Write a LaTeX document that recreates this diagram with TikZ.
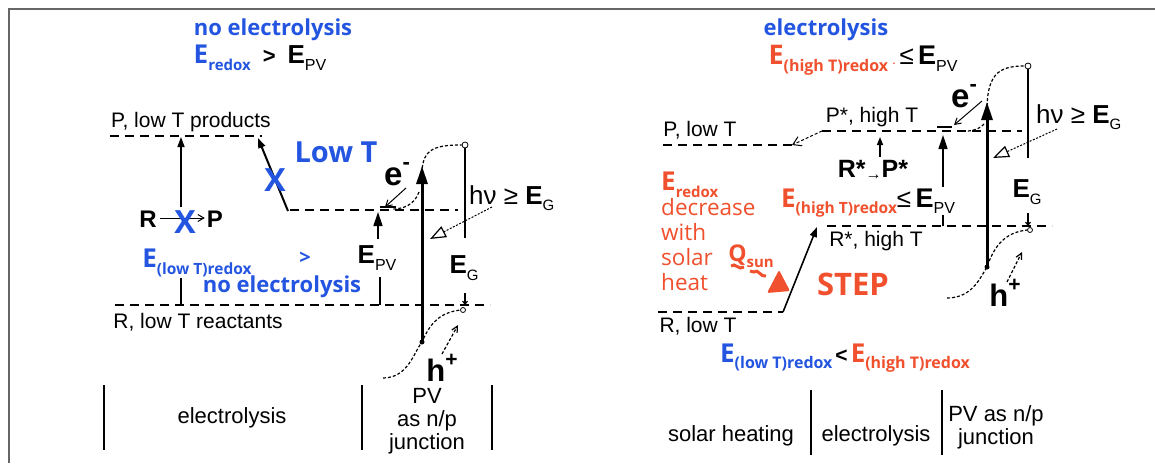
\documentclass[tikz,border=0pt]{standalone}
\usepackage{fontspec}
\setmainfont{Liberation Sans}
\newfontfamily\os{Open Sans}
\usetikzlibrary{arrows.meta}
\definecolor{eblue}{RGB}{35,85,225}
\definecolor{ered}{RGB}{240,80,45}
\newcommand\fs[1]{\fontsize{#1}{#1}\selectfont}
\newcommand\sub[2]{\raisebox{-0.25em}{\fs{#1}#2}}
\newcommand\sups[2]{\raisebox{0.5em}{\fs{#1}#2}}
\tikzset{
  txt/.style={inner sep=0pt, font=\fs{21}},
  bot/.style={inner sep=0pt, font=\fs{22}, align=center},
  lab/.style={inner sep=0pt, font=\fs{24}\bfseries},
  bluetxt/.style={inner sep=0pt, text=eblue, font=\os\bfseries\fs{22}},
  redtxt/.style={inner sep=0pt, text=ered, align=left},
  bigx/.style={inner sep=0pt, text=eblue, font=\os\bfseries\fs{32}},
  dline/.style={dash pattern=on 9pt off 6pt, line width=1.4pt},
  dcurve/.style={dash pattern=on 3pt off 2pt, line width=1.2pt},
  arr/.style={line width=1.5pt, -{Triangle[length=10pt,width=7pt]}},
  thickarr/.style={line width=3pt, -{Triangle[length=18pt,width=11pt]}},
  hvarr/.style={dash pattern=on 2pt off 1.5pt, line width=1pt, -{Triangle[open,length=16pt,width=12pt,line width=1.2pt]}},
  earr/.style={line width=1pt, -{Straight Barb[length=6pt,width=7pt]}},
  harr/.style={dcurve, -{Straight Barb[length=6pt,width=6pt]}},
  tick/.style={line width=1.4pt},
  sep/.style={line width=1.6pt},
  endmark/.style={circle, draw, fill=white, inner sep=0pt, minimum size=6pt, line width=0.8pt}
}
\begin{document}
\begin{tikzpicture}[x=1pt,y=-1pt]
\useasboundingbox (0,0) rectangle (1155,463);
\fill[white] (0,0) rectangle (1155,463);
\draw[line width=2.5pt, black!60] (9,463) -- (9,9) -- (1155,9);

% ================= LEFT PANEL =================
\node[bluetxt] (noel1) at (273,30) {no electrolysis};
\node[inner sep=0pt] (eq1) at (260,58) {{\color{eblue}\os\bfseries\fs{26}E\sub{15}{redox}}\hspace{12pt}{\bfseries\fs{22}>}\hspace{12pt}{\bfseries\fs{26}E\sub{16}{\mdseries PV}}};

\node[txt] (Plt) at (191,122) {P, low T products};
\coordinate (PL1) at (110,136); \coordinate (PL2) at (262,136);
\draw[dline] (PL1) -- (PL2);

\coordinate (ua1) at (181,207); \coordinate (ua2) at (181,137);
\draw[arr] (ua1) -- (ua2);
\node[lab] (R1) at (148,219) {R};
\node[lab] (P1) at (215,219) {P};
\draw[earr, line width=1pt] ([xshift=3pt,yshift=1pt]R1.east) -- ([xshift=-2pt,yshift=1pt]P1.west);
\node[bigx] (X1) at (185,222) {X};

\node[inner sep=0pt] (Elow) at (197,263) {\color{eblue}\os\bfseries\fs{26}E\sub{15.5}{(low T)redox}};
\node[inner sep=0pt, text=eblue, font=\os\bfseries\fs{20}] (gt1) at (305,258) {>};
\coordinate (tk1) at (181,278); \coordinate (tk2) at (181,305);
\draw[tick] (tk1) -- (tk2);
\node[bluetxt] (noel2) at (282,287) {no electrolysis};

\coordinate (RL1) at (115,305); \coordinate (RL2) at (490,305);
\draw[dline] (RL1) -- (RL2);
\node[txt] (Rlt) at (198,322) {R, low T reactants};

\coordinate (lu1) at (288,211); \coordinate (lu2) at (258,138);
\draw[arr, line width=2pt] (lu1) -- (lu2);
\node[bigx] (X2) at (275,180) {X};
\node[inner sep=0pt, text=eblue, font=\os\bfseries\fs{29}] (lowT) at (336,152) {Low T};

\coordinate (UL1) at (290,210); \coordinate (UL2) at (458,210);
\draw[dline] (UL1) -- (UL2);

% PV left
\coordinate (mb1) at (422,342); \coordinate (mt1) at (422,166);
\draw[thickarr] (mb1) -- (mt1);
\fill (mb1) circle (2.5pt);
\node[endmark] (c1) at (465,145) {};
\coordinate (cs1) at (422,178);
\draw[dcurve] (cs1) .. controls (421,150) and (432,145) .. (c1.west);
\coordinate (ec1) at (419,192); \coordinate (ec2) at (392,209);
\draw[dcurve] (ec1) .. controls (414,206) and (402,209) .. (ec2);
\node[inner sep=0pt, font=\bfseries\fs{33}] (e1) at (397,174) {e\sups{22}{-}};
\coordinate (ea1) at (406,188); \coordinate (ea2) at (385,207);
\draw[earr] (ea1) -- (ea2);
\draw[line width=1.2pt] (380,207) -- (396,207);
\coordinate (hv1b) at (465,238);
\draw[line width=1.4pt] (c1.south) -- (hv1b);
\node[inner sep=0pt, anchor=west] (hv1) at (469,198) {\fs{26}hν ≥ {\bfseries E}\sub{15}{G}};
\coordinate (ha1) at (492,207); \coordinate (ha2) at (430,239);
\draw[hvarr] (ha1) -- (ha2);
\node[inner sep=0pt] (EG1) at (464,268) {\fs{26}{\bfseries E}\sub{15}{G}};
\coordinate (gt1a) at (465,293); \coordinate (gt1b) at (465,305);
\draw[line width=1.2pt, -{Straight Barb[length=3pt,width=5pt]}] (gt1a) -- (gt1b);
\coordinate (pa1) at (378,239); \coordinate (pa2) at (378,212);
\draw[arr, -{Triangle[length=14pt,width=9pt]}] (pa1) -- (pa2);
\node[inner sep=0pt] (EPV1) at (377,258) {\fs{26}{\bfseries E}\sub{16}{PV}};
\coordinate (pt1) at (380,277); \coordinate (pt2) at (380,305);
\draw[tick] (pt1) -- (pt2);
\node[endmark, minimum size=5pt] (c2) at (463,310) {};
\coordinate (hs1) at (383,378);
\draw[dcurve] (hs1) .. controls (408,378) and (414,352) .. (mb1) .. controls (432,318) and (445,312) .. (c2.west);
\coordinate (hp1) at (442,354); \coordinate (hp2) at (458,325);
\draw[harr] (hp1) -- (hp2);
\node[inner sep=0pt, font=\bfseries\fs{31}] (h1) at (442,368) {h\sups{21}{+}};

% bottom labels left
\draw[sep] (104,385) -- (104,450);
\draw[sep] (362,385) -- (362,450);
\draw[sep] (492,385) -- (492,450);
\node[bot] (bl1) at (232,418) {electrolysis};
\node[bot, font=\fontsize{22}{23}\selectfont] (bl2) at (427,421) {PV\\as n/p\\junction};

% ================= RIGHT PANEL =================
\node[bluetxt] (el2) at (826,30) {electrolysis};
\node[inner sep=0pt] (eq2) at (863,60) {{\color{ered}\os\bfseries\fs{27}E\sub{16}{(high T)redox}\,\fs{10}.}\hspace{4pt}{\fs{26}≤\,}{\bfseries\fs{27}E\sub{16}{\mdseries PV}}};

\coordinate (PS1) at (822,131); \coordinate (PS2) at (1022,131);
\draw[dline] (PS1) -- (PS2);
\node[txt] (Pst) at (872,117) {P*, high T};
\coordinate (PR1) at (663,145); \coordinate (PR2) at (792,145);
\draw[dline] (PR1) -- (PR2);
\draw[dcurve, line width=1pt, -{Straight Barb[length=8pt,width=10pt]}] (PS1) -- (PR2);
\node[txt] (Plow2) at (700,130) {P, low T};

\coordinate (su1) at (880,157); \coordinate (su2) at (880,137);
\draw[arr, -{Triangle[length=8pt,width=6pt]}] (su1) -- (su2);
\node[inner sep=0pt, font=\bfseries\fs{25}] (RP2) at (873,170) {R*\raisebox{-0.1em}{\mdseries\fs{16}→}P*};

\node[redtxt, anchor=north west, font=\os\fontsize{22.5}{25}\selectfont] (dec) at (661,172) {{\bfseries\fs{26}E\sub{15}{redox}}\\decrease\\with\\solar\\heat};
\node[inner sep=0pt] (eq3) at (868,203) {{\color{ered}\os\bfseries\fs{26}E\sub{15.5}{(high T)redox}}{\fs{26}≤\,}{\bfseries\fs{27}E\sub{16}{\mdseries PV}}};

\coordinate (qa1) at (943,187); \coordinate (qa2) at (943,135);
\draw[arr, -{Triangle[length=14pt,width=9pt]}] (qa1) -- (qa2);
\coordinate (qt1) at (943,215); \coordinate (qt2) at (943,226);
\draw[tick] (qt1) -- (qt2);

\coordinate (RS1) at (827,226); \coordinate (RS2) at (1052,226);
\draw[dline] (RS1) -- (RS2);
\node[txt] (Rst) at (876,241) {R*, high T};

\node[inner sep=0pt, text=ered, font=\os\bfseries\fs{23}] (Q) at (751,256) {Q\sub{15}{sun}};
\draw[ered, line width=3pt] (731,266) .. controls (735,262) and (739,271) .. (744,267);
\draw[ered, line width=3pt] (750,271) -- (754,272) .. controls (758,268) and (761,278) .. (766,276);
\fill[ered, rounded corners=2pt] (767,293) -- (779,270) -- (790,291) -- cycle;
\node[inner sep=0pt, text=ered, font=\os\bfseries\fs{31}] (STEP) at (853,284) {STEP};

\coordinate (RR1) at (658,312); \coordinate (RR2) at (783,312); \coordinate (RR3) at (817,227);
\draw[dline] (RR1) -- (RR2);
\draw[arr, line width=1.6pt] (RR2) -- (RR3);
\node[txt] (Rlow2) at (698,326) {R, low T};

\node[inner sep=0pt] (eq4) at (845,358) {{\color{eblue}\os\bfseries\fs{26}E\sub{16}{(low T)redox}}\hspace{3pt}{\bfseries\fs{21}<}\hspace{3pt}{\color{ered}\os\bfseries\fs{26}E\sub{16}{(high T)redox}}};

% PV right
\coordinate (mb2) at (987,267); \coordinate (mt2) at (987,102);
\draw[thickarr] (mb2) -- (mt2);
\fill (mb2) circle (2.5pt);
\node[endmark] (c3) at (1028,66) {};
\coordinate (cs2) at (987,116);
\draw[dcurve] (cs2) .. controls (986,74) and (998,66) .. (c3.west);
\coordinate (ec3) at (984,124); \coordinate (ec4) at (957,131);
\draw[dcurve] (ec3) .. controls (978,131) and (966,132) .. (ec4);
\node[inner sep=0pt, font=\bfseries\fs{33}] (e2) at (964,96) {e\sups{22}{-}};
\coordinate (eb1) at (982,101); \coordinate (eb2) at (954,125);
\draw[earr] (eb1) -- (eb2);
\draw[line width=1.2pt] (937,127) -- (952,127);
\coordinate (hv2b) at (1028,158);
\draw[line width=1.4pt] (c3.south) -- (hv2b);
\node[inner sep=0pt, anchor=west] (hv2) at (1036,117) {\fs{26}hν ≥ {\bfseries E}\sub{15}{G}};
\coordinate (hb1) at (1057,129); \coordinate (hb2) at (993,158);
\draw[hvarr] (hb1) -- (hb2);
\node[inner sep=0pt] (EG2) at (1027,192) {\fs{26}{\bfseries E}\sub{15}{G}};
\coordinate (gt2a) at (1028,213); \coordinate (gt2b) at (1028,226);
\draw[line width=1.2pt, -{Straight Barb[length=3pt,width=5pt]}] (gt2a) -- (gt2b);
\node[endmark, minimum size=5pt] (c4) at (1030,230) {};
\coordinate (hs2) at (947,298);
\draw[dcurve] (hs2) .. controls (972,298) and (980,278) .. (mb2) .. controls (996,240) and (1010,232) .. (c4.west);
\coordinate (hq1) at (1007,282); \coordinate (hq2) at (1022,252);
\draw[harr] (hq1) -- (hq2);
\node[inner sep=0pt, font=\bfseries\fs{31}] (h2) at (1005,293) {h\sups{21}{+}};

% bottom labels right
\draw[sep] (811,390) -- (811,455);
\draw[sep] (942,390) -- (942,455);
\node[bot] (br1) at (731,436) {solar heating};
\node[bot] (br2) at (876,436) {electrolysis};
\node[bot, font=\fontsize{22}{23}\selectfont] (br3) at (996,427) {PV as n/p\\junction};
\end{tikzpicture}
\end{document}
